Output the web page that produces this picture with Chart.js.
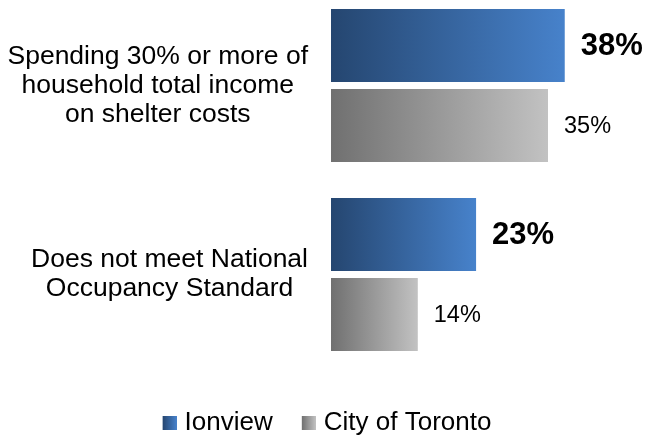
<!DOCTYPE html>
<html>
<head>
<meta charset="utf-8">
<script src="https://cdn.jsdelivr.net/npm/chart.js@4/dist/chart.umd.min.js"></script>
<style>
  html, body { margin: 0; padding: 0; background: #fff; }
  #wrap { width: 647px; height: 436px; }
</style>
</head>
<body>
<div id="wrap"><canvas id="mainChart"></canvas></div>
<script>
// === Data ===
const categories = [
  ["Spending 30% or more of", "household total income", "on shelter costs"],
  ["Does not meet National", "Occupancy Standard"]
];
const seriesNames = ["Ionview", "City of Toronto"];
const ionviewValues = [37.7, 23.4];
const torontoValues = [35.0, 14.0];

const FONT = "'Liberation Sans', Arial, sans-serif";

// gradient stops per series (left -> right)
const blueStops = ["#254670", "#4782cb"];
const greyStops = ["#707070", "#c2c2c2"];

// small gradient squares used as legend markers (transparent margin on the left)
function legendSwatch(stops) {
  const c = document.createElement("canvas");
  c.width = 24;
  c.height = 14;
  const g = c.getContext("2d");
  const grad = g.createLinearGradient(10, 0, 24, 0);
  grad.addColorStop(0, stops[0]);
  grad.addColorStop(1, stops[1]);
  g.fillStyle = grad;
  g.fillRect(10, 0, 14, 14);
  return c;
}

// each bar gets its own left-to-right gradient
function barGradient(stops) {
  return function (context) {
    const chart = context.chart;
    const x = chart.scales.x;
    if (!x || context.raw == null) return stops[1];
    const x0 = x.getPixelForValue(0);
    const x1 = x.getPixelForValue(context.raw);
    if (!isFinite(x0) || !isFinite(x1) || x1 === x0) return stops[1];
    const grad = chart.ctx.createLinearGradient(x0, 0, x1, 0);
    grad.addColorStop(0, stops[0]);
    grad.addColorStop(1, stops[1]);
    return grad;
  };
}

// === Category labels: each block right-aligned, lines centred inside it ===
const categoryLabels = {
  id: "categoryLabels",
  afterDraw(chart) {
    const ctx = chart.ctx;
    const yScale = chart.scales.y;
    const rightEdge = chart.chartArea.left - 23;
    const lineH = 29.2;
    ctx.save();
    ctx.font = "26.5px " + FONT;
    ctx.fillStyle = "#000";
    ctx.textAlign = "center";
    ctx.textBaseline = "middle";
    chart.data.labels.forEach((lines, i) => {
      const widest = Math.max(...lines.map(l => ctx.measureText(l).width));
      const cx = rightEdge - widest / 2;
      const cy = yScale.getPixelForTick(i);
      const top = cy - (lines.length - 1) * lineH / 2;
      lines.forEach((line, j) => ctx.fillText(line, cx, top + j * lineH));
    });
    ctx.restore();
  }
};

// === Value labels at the end of each bar ===
const valueLabels = {
  id: "valueLabels",
  afterDatasetsDraw(chart) {
    const ctx = chart.ctx;
    ctx.save();
    ctx.textAlign = "left";
    ctx.textBaseline = "middle";
    ctx.fillStyle = "#000";
    chart.data.datasets.forEach((ds, di) => {
      const meta = chart.getDatasetMeta(di);
      ctx.font = di === 0 ? "bold 31px " + FONT : "23.5px " + FONT;
      meta.data.forEach((bar, i) => {
        ctx.fillText(Math.round(ds.data[i]) + "%", bar.x + 16, bar.y + 1);
      });
    });
    ctx.restore();
  }
};

const swatches = [legendSwatch(blueStops), legendSwatch(greyStops)];

new Chart(document.getElementById("mainChart"), {
  type: "bar",
  data: {
    labels: categories,
    datasets: [
      {
        label: seriesNames[0],
        data: ionviewValues,
        backgroundColor: barGradient(blueStops),
        clip: false
      },
      {
        label: seriesNames[1],
        data: torontoValues,
        backgroundColor: barGradient(greyStops),
        clip: false
      }
    ]
  },
  options: {
    indexAxis: "y",
    responsive: true,
    maintainAspectRatio: false,
    animation: false,
    categoryPercentage: 0.8466,
    barPercentage: 0.9125,
    layout: {
      padding: { left: 8, right: 6, top: 85.5, bottom: -10 }
    },
    scales: {
      x: {
        min: 0,
        max: 50,
        grid: { display: false, drawTicks: false },
        border: { display: false },
        ticks: { display: false },
        afterFit(scale) {
          scale.height = 111.5;
        }
      },
      y: {
        offset: false,
        grid: { display: false, drawTicks: false },
        border: { display: false },
        ticks: { display: false },
        afterFit(scale) {
          scale.width = 323;
        }
      }
    },
    plugins: {
      tooltip: { enabled: false },
      legend: {
        position: "bottom",
        labels: {
          usePointStyle: true,
          boxWidth: 14,
          boxHeight: 14,
          padding: 24,
          color: "#000",
          font: { family: FONT, size: 26 },
          generateLabels(chart) {
            return chart.data.datasets.map((ds, i) => ({
              text: ds.label,
              pointStyle: swatches[i],
              fillStyle: i === 0 ? blueStops[1] : greyStops[1],
              strokeStyle: "transparent",
              lineWidth: 0,
              fontColor: "#000",
              hidden: false,
              datasetIndex: i
            }));
          }
        }
      }
    }
  },
  plugins: [valueLabels, categoryLabels]
});
</script>
</body>
</html>
